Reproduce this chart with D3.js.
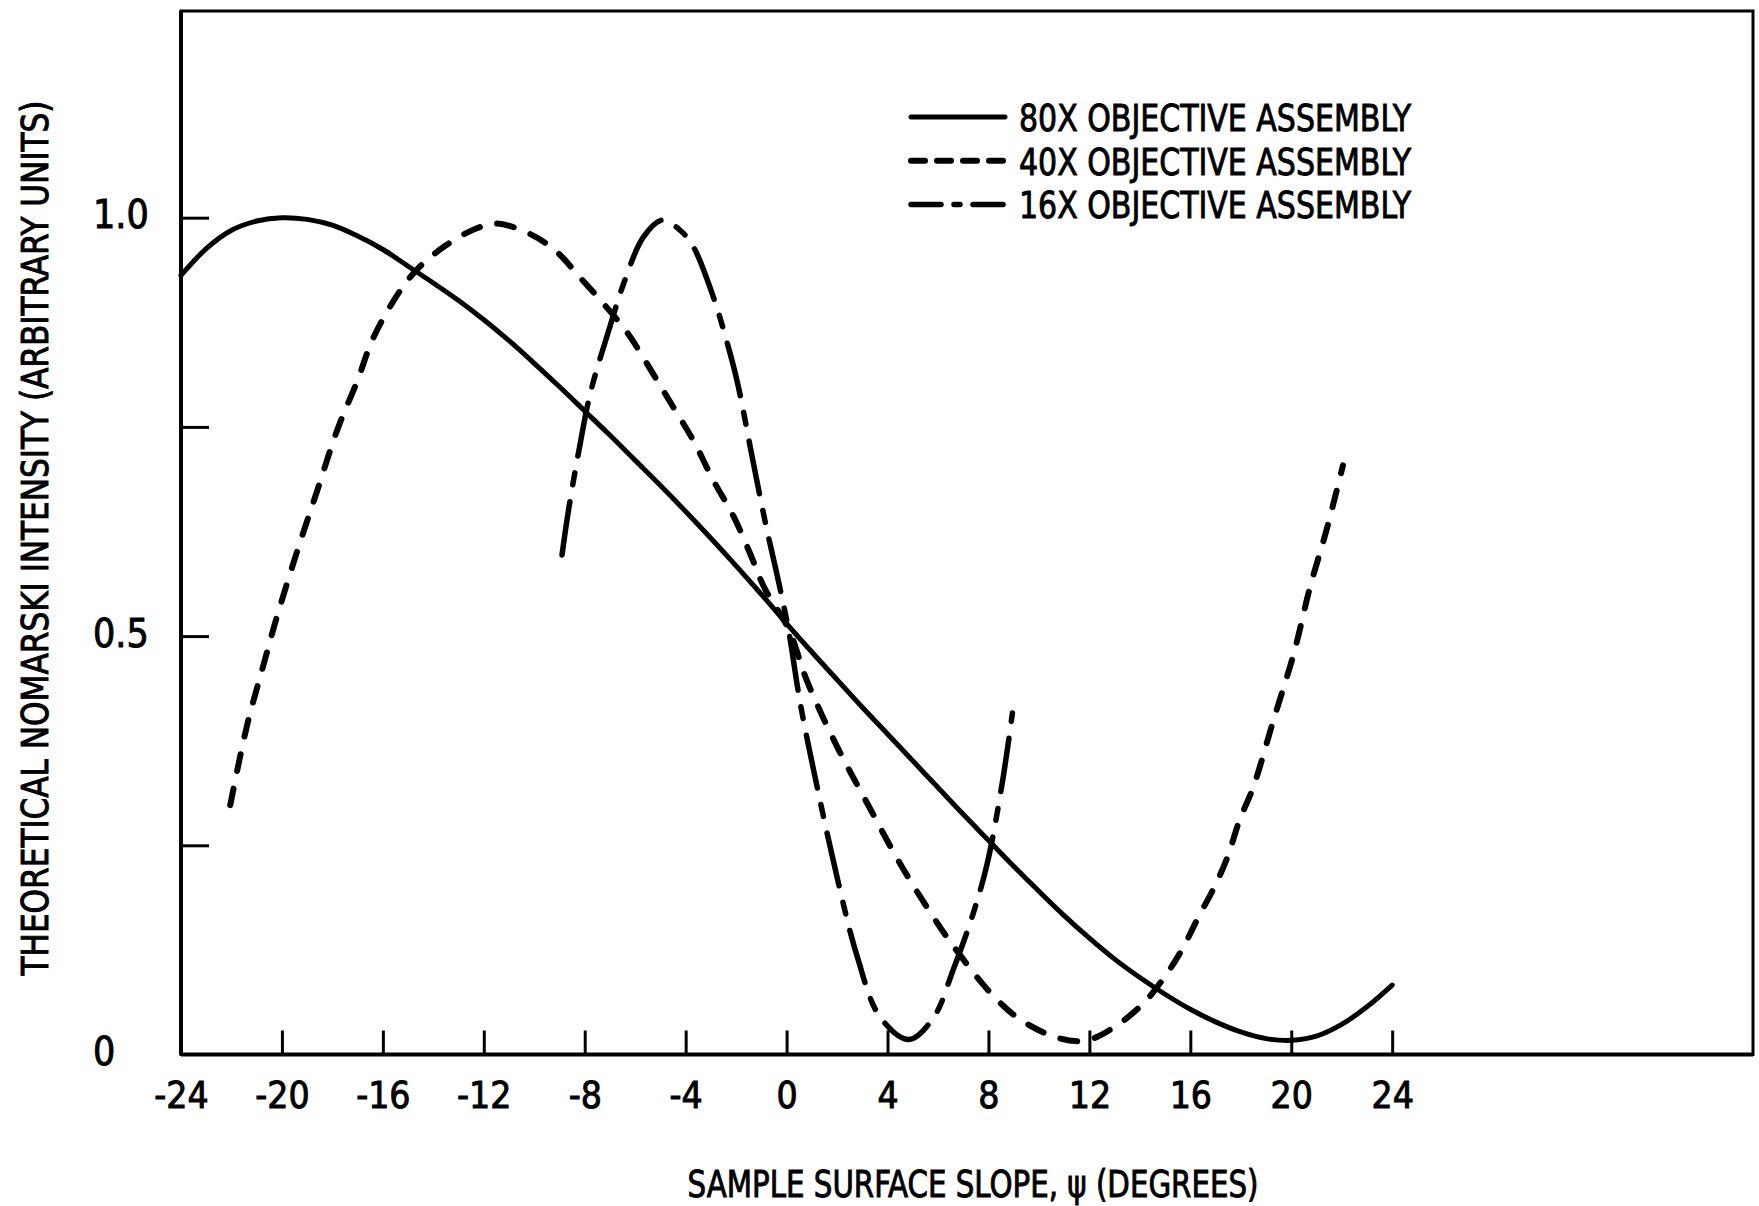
<!DOCTYPE html>
<html>
<head>
<meta charset="utf-8">
<script src="https://cdn.jsdelivr.net/npm/d3@7"></script>
<style>
    body { margin: 0; background: #fff; }
    text {
        font-family: "Liberation Sans Narrow", "DejaVu Sans Condensed", "Roboto Condensed", sans-serif;
        fill: #000;
        stroke: #000;
        stroke-width: 0.9px;
    }
</style>
</head>
<body>
<div id="viz_container"></div>
<script>
// tick values and labels
const xTicks = [-24, -20, -16, -12, -8, -4, 0, 4, 8, 12, 16, 20, 24];
const yTicks = [0.25, 0.5, 0.75, 1.0];
const yLabelValues = [0, 0.5, 1.0];
const yLabelText = ["0", "0.5", "1.0"];

// legend labels
const seriesNames = ["80X OBJECTIVE ASSEMBLY", "40X OBJECTIVE ASSEMBLY", "16X OBJECTIVE ASSEMBLY"];

// 80X objective (solid)
const slope80 = [-24, -23, -22, -21, -20, -19, -18, -17, -16, -15, -14, -13, -12, -11, -10, -9, -8, -7, -6, -5, -4, -3, -2, -1, 0,
    1, 2, 3, 4, 5, 6, 7, 8, 9, 10, 11, 12, 13, 14, 15, 16, 17, 18, 19, 20, 21, 22, 23, 24];
const intensity80 = [0.931, 0.963, 0.985, 0.996, 1.000, 0.998, 0.991, 0.978, 0.962, 0.942, 0.922, 0.901, 0.878, 0.853, 0.826,
    0.798, 0.769, 0.740, 0.710, 0.680, 0.649, 0.617, 0.584, 0.550, 0.515, 0.481, 0.448, 0.415, 0.383, 0.351, 0.319,
    0.287, 0.256, 0.225, 0.195, 0.166, 0.139, 0.114, 0.092, 0.072, 0.054, 0.039, 0.027, 0.019, 0.017, 0.022, 0.036,
    0.057, 0.083];

// 40X objective (dashed)
const slope40 = [-22.05, -21.4, -20.7, -20.2, -19.4, -18.6, -17.8, -17.0, -16.4, -15.4, -14.65, -13.5, -12.3, -11.5,
    -10.2, -9.1, -8.2, -7.25, -6.3, -5.3, -4.5, -3.7, -2.9, -2.1, -1.45, -0.9, 0.1, 0.8, 2.0, 3.2, 4.5, 5.8, 6.6,
    8.1, 9.3, 10.85, 11.9, 13.0, 14.2, 15.1, 15.7, 16.3, 16.9, 17.45, 17.95, 18.5, 19.3, 20.1, 20.75, 21.4, 22.05];
const intensity40 = [0.298, 0.391, 0.469, 0.523, 0.601, 0.674, 0.747, 0.806, 0.855, 0.909, 0.938, 0.967, 0.987, 0.993,
    0.981, 0.959, 0.929, 0.897, 0.862, 0.814, 0.774, 0.734, 0.686, 0.643, 0.599, 0.559, 0.507, 0.447, 0.368, 0.300,
    0.228, 0.165, 0.130, 0.073, 0.041, 0.019, 0.017, 0.033, 0.063, 0.098, 0.127, 0.163, 0.197, 0.234, 0.280, 0.320,
    0.400, 0.479, 0.559, 0.627, 0.704];

// 16X objective (long-short dash)
const slope16 = [-8.9, -8.64, -8.18, -7.78, -7.0, -6.46, -5.67, -4.94, -4.22, -3.69, -2.9, -2.5, -1.97, -1.44, -1.18,
    -0.78, -0.45, -0.19, 0.08, 0.54, 1.07, 2.0, 2.8, 3.7, 4.86, 5.84, 6.6, 7.4, 7.95, 8.55, 8.95];
const intensity16 = [0.597, 0.651, 0.730, 0.790, 0.870, 0.921, 0.977, 0.997, 0.985, 0.965, 0.905, 0.866, 0.806, 0.726,
    0.686, 0.627, 0.583, 0.547, 0.507, 0.420, 0.340, 0.212, 0.117, 0.045, 0.018, 0.045, 0.101, 0.169, 0.228, 0.325, 0.408];

// set the dimensions and margins of the graph
const margin = { top: 11, right: 6, bottom: 151.5, left: 181 };
const width = 1759 - margin.left - margin.right;
const height = 1206 - margin.top - margin.bottom;

const svgRoot = d3.select("#viz_container")
    .append("svg")
    .attr("width", 1759)
    .attr("height", 1206);

svgRoot.append("rect")
    .attr("width", 1759)
    .attr("height", 1206)
    .attr("fill", "#fff");

const svg = svgRoot.append("g")
    .attr("transform", `translate(${margin.left}, ${margin.top})`);

// scales (the frame runs past the last tick on the right)
const xScale = d3.scaleLinear()
    .domain([-24, 38.3])
    .range([0, width]);
const yScale = d3.scaleLinear()
    .domain([0, 1.247])
    .range([height, 0]);

// frame
svg.append("rect")
    .attr("width", width)
    .attr("height", height)
    .attr("fill", "none")
    .attr("stroke", "#000")
    .attr("stroke-width", 3);
svg.append("line")
    .attr("x1", 0).attr("x2", 0)
    .attr("y1", 0).attr("y2", height)
    .attr("stroke", "#000").attr("stroke-width", 4);
svg.append("line")
    .attr("x1", 0).attr("x2", width)
    .attr("y1", height).attr("y2", height)
    .attr("stroke", "#000").attr("stroke-width", 4);

// x axis, ticks pointing inwards
const xAxis = svg.append("g")
    .attr("transform", `translate(0, ${height})`)
    .call(d3.axisBottom(xScale).tickValues(xTicks).tickSizeInner(-24).tickSizeOuter(0).tickFormat(d3.format("")))
    .call(g => g.select(".domain").remove());
xAxis.selectAll("line").attr("stroke-width", 3);
xAxis.selectAll("text")
    .attr("y", 43)
    .attr("dy", null)
    .attr("dominant-baseline", "middle")
    .attr("font-size", 37)
    .attr("font-family", null)
    .text(d => d < 0 ? "-" + Math.abs(d) : d);

// y axis, ticks pointing inwards
const yAxis = svg.append("g")
    .call(d3.axisLeft(yScale).tickValues(yTicks).tickSizeInner(-28).tickSizeOuter(0).tickFormat(""))
    .call(g => g.select(".domain").remove());
yAxis.selectAll("line").attr("stroke-width", 3);

svg.selectAll(".ylabel")
    .data(yLabelValues)
    .join("text")
    .attr("class", "ylabel")
    .attr("x", -88)
    .attr("y", d => yScale(d))
    .attr("dominant-baseline", "middle")
    .attr("text-anchor", "start")
    .attr("font-size", 39)
    .text((d, i) => yLabelText[i]);

// curves
const line = d3.line()
    .curve(d3.curveCatmullRom.alpha(0.5))
    .x(d => xScale(d[0]))
    .y(d => yScale(d[1]));

const series = [
    { name: seriesNames[0], pts: d3.zip(slope80, intensity80), dash: null, w: 5 },
    { name: seriesNames[1], pts: d3.zip(slope40, intensity40), dash: "17,18", w: 6 },
    { name: seriesNames[2], pts: d3.zip(slope16, intensity16), dash: "54,17,12,17", w: 5.5 }
];

svg.selectAll(".curve")
    .data(series)
    .join("path")
    .attr("class", "curve")
    .attr("fill", "none")
    .attr("stroke", "#000")
    .attr("stroke-width", d => d.w)
    .attr("stroke-linecap", "round")
    .attr("stroke-linejoin", "round")
    .attr("stroke-dasharray", d => d.dash)
    .attr("d", d => line(d.pts));

// legend
const legend = svg.append("g")
    .attr("transform", `translate(${909 - margin.left}, ${117 - margin.top})`);
const legendRows = legend.selectAll("g")
    .data(series)
    .join("g")
    .attr("transform", (d, i) => `translate(0, ${i * 43.7})`);
legendRows.append("line")
    .attr("x1", 2).attr("x2", 96)
    .attr("stroke", "#000")
    .attr("stroke-width", d => d.w)
    .attr("stroke-linecap", "round")
    .attr("stroke-dasharray", (d, i) => i === 1 ? "14,12" : (i === 2 ? "30,13,6,13" : null));
legendRows.append("text")
    .attr("x", 110)
    .attr("y", 14)
    .attr("font-size", 38)
    .attr("textLength", 392)
    .attr("lengthAdjust", "spacingAndGlyphs")
    .text(d => d.name);

// axis titles
svgRoot.append("text")
    .attr("x", 973)
    .attr("y", 1197)
    .attr("text-anchor", "middle")
    .attr("font-size", 37)
    .attr("textLength", 571)
    .attr("lengthAdjust", "spacingAndGlyphs")
    .text("SAMPLE SURFACE SLOPE, \u03C8 (DEGREES)");

svgRoot.append("text")
    .attr("transform", "translate(48, 538) rotate(-90)")
    .attr("text-anchor", "middle")
    .attr("font-size", 37)
    .attr("textLength", 875)
    .attr("lengthAdjust", "spacingAndGlyphs")
    .text("THEORETICAL NOMARSKI INTENSITY (ARBITRARY UNITS)");
</script>
</body>
</html>
